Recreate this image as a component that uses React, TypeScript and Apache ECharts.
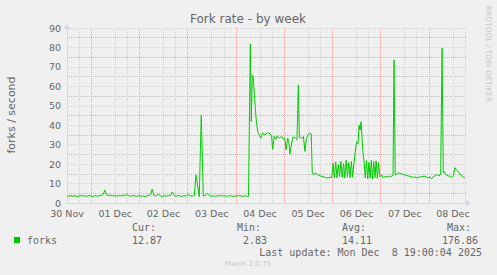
import React, { useEffect, useRef } from 'react';
import * as echarts from 'echarts';

// hours since 30 Nov 00:00
const hours = [
  12, 13, 14, 15, 16, 17, 18, 19, 20, 21, 22, 23, 24, 25, 26, 27, 28, 29, 30, 30.8,
  31.6, 32.5, 33.5, 34.5, 35.5, 36.5, 37.5, 38.5, 39.5, 40.5, 41.7, 42.7, 43.7, 44.7, 45.7,
  46.7, 47.7, 48.7, 49.7, 50.7, 51.7, 52.7, 53.6, 54.4, 55.2, 56.2, 57.3, 58.3, 59.3, 60.3,
  61.3, 62.3, 63.5, 64.4, 65.3, 66.3, 67.3, 68.3, 69.3, 70.3, 71.3, 72.2, 73.2, 74.2, 75.3,
  76.2, 77.8, 78.8, 79.8, 80.8, 81.8, 82.8, 83.8, 84.8, 85.8, 86.8, 87.8, 88.8, 89.8, 90.8,
  91.8, 92.8, 93.8, 94.8, 95.8, 96.8, 97.8, 98.8, 99.8, 100.8, 101.8, 102.3, 103.2, 103.7,
  104.2, 104.7, 105.2, 105.7, 106.2, 106.9, 107.7, 108.4, 109.4, 110.5, 111.8, 113, 113.8,
  114.3, 115.1, 115.9, 116.6, 117.6, 118.8, 119.6, 120.3, 121, 121.8, 122.4, 122.9, 124.3,
  125.4, 126.4, 127.1, 127.6, 128.8, 129.6, 130.4, 131.1, 132, 132.9, 133.5, 134, 134.6,
  135.4, 136.2, 137, 137.8, 138.7, 139.9, 141.2, 142.3, 143.7, 144.4, 145.0, 145.7, 146.3,
  147.0, 147.6, 148.3, 148.9, 149.6, 150.2, 150.9, 151.5, 152.2, 152.8, 153.5, 154.1, 154.8,
  155.3, 156.1, 156.8, 157.3, 157.8, 158.3, 158.7, 159.2, 159.8, 160.4, 161.0, 161.6, 162.2,
  162.8, 163.4, 164.0, 164.6, 165.2, 165.8, 166.4, 167.0, 167.7, 168.6, 169.4, 170.2, 171.1,
  172.0, 172.7, 173.5, 174.2, 174.7, 175.3, 176.0, 176.8, 177.6, 178.5, 179.3, 180.2, 181.4,
  182.6, 183.4, 184.3, 185.1, 186.0, 186.8, 187.6, 188.8, 190.1, 191.0, 191.8, 192.6, 193.4,
  194.2, 195.0, 195.9, 196.5, 197.2, 197.9, 198.6, 199.2, 199.7, 200.3, 200.9, 201.6, 202.2,
  202.8, 203.4, 204.2, 205.0, 205.9, 206.7, 207.6, 208.4, 209.2, 210.0,
];

const forks = [
  3.7, 3.4, 3.9, 3.5, 3.8, 3.3, 3.6, 4.0, 3.5, 3.7, 3.4, 3.9, 3.6, 3.3, 3.8, 3.5, 3.7, 3.9, 4.4, 6.7,
  4.3, 3.8, 4.0, 3.6, 3.9, 3.5, 3.8, 3.6, 4.0, 3.7, 4.4, 3.8, 3.5, 3.9, 3.6,
  3.4, 3.8, 3.5, 3.7, 3.3, 3.6, 3.9, 4.2, 7.2, 3.9, 3.6, 4.5, 3.7, 3.4, 3.8,
  3.5, 3.7, 4.0, 5.7, 3.8, 3.5, 3.9, 3.6, 3.4, 3.8, 3.6, 4.5, 3.7, 3.5, 3.9,
  14.4, 3.2, 45.3, 3.6, 3.9, 5.0, 3.8, 3.5, 3.7, 3.4, 3.8, 3.6, 3.9, 3.5, 3.7,
  3.4, 3.8, 3.6, 3.3, 3.7, 3.5, 3.9, 3.6, 3.4, 3.7, 3.4, 3.5, 81.8, 41.8,
  65.8, 64.5, 56, 48.8, 42, 36.7, 35, 33.3, 36, 35, 36.2, 35.6, 34.5,
  27.6, 34.3, 32.8, 34.5, 33.3, 34.3, 32.8, 33.5, 27.4, 33.3, 31, 25.2, 33.8,
  33.8, 32.5, 60.7, 33.8, 33.3, 34.2, 26.5, 33.3, 35.3, 36, 35.5, 16.1, 14.5,
  15.3, 14.8, 14.4, 14.1, 13.7, 13.4, 12.9, 13.1, 13.2, 20.5, 13.0, 21.2, 12.9,
  19.8, 13.6, 21.5, 13.2, 20.3, 12.8, 22.0, 13.4, 20.8, 13.0, 21.4, 13.3, 20.6,
  25.6, 31.5, 30.5, 40, 37.5, 41.8, 35, 26.3, 21.5, 13.0, 21.8, 12.4, 20.9,
  12.8, 22.0, 12.3, 21.3, 13.1, 21.7, 12.6, 20.8, 13.4, 14.4, 13.0, 13.5, 13.7,
  13.3, 13.9, 13.5, 14.6, 73.6, 14.4, 14.9, 15.6, 15.2, 15.0, 14.7, 14.4, 14.0,
  13.7, 13.5, 13.2, 13.4, 12.9, 13.3, 13.3, 13.6, 13.8, 13.2, 12.9, 13.6, 12.4,
  13.6, 13.9, 14.7, 14.2, 14.0, 14.9, 79.6, 15.6, 16.3, 15.0, 14.2, 14.0, 13.8,
  13.5, 13.2, 13.8, 18.2, 16.8, 16.0, 14.8, 13.8, 13.3, 12.9,
];

// midnight positions (hours since 30 Nov 00:00) for the major vertical grid
const midnightHours = [24, 48, 72, 96, 120, 144, 168, 192];
const dayLabels = ['30 Nov', '01 Dec', '02 Dec', '03 Dec', '04 Dec', '05 Dec', '06 Dec', '07 Dec', '08 Dec'];
const legendHeads = ['Cur:', 'Min:', 'Avg:', 'Max:'];
const legendValues = ['12.87', '2.83', '14.11', '176.86'];
const seriesName = 'forks';
const titleText = 'Fork rate - by week';
const yAxisTitle = 'forks / second';
const lastUpdate = 'Last update: Mon Dec  8 19:00:04 2025';
const watermark = 'Munin 2.0.75';
const sideText = 'RRDTOOL / TOBI OETIKER';

const GRAY = '#d4d4d4';
const RED = '#eba6a6';
const AXIS = '#CFD6F8';
const FONT = '#666666';
const SANS = '"DejaVu Sans", sans-serif';
const MONO = '"DejaVu Sans Mono", monospace';

export default function App() {
  const ref = useRef<HTMLDivElement>(null);
  useEffect(() => {
    if (!ref.current) return;
    const chart = echarts.init(ref.current, undefined, { renderer: 'svg' });
    const data = hours.map((h, i) => [h, forks[i]]);
    const headX = [132, 237, 342, 447];
    const valX = [132, 243, 342, 442];
    const monoText = (text: string, x: number, y: number, align = 'left') => ({
      type: 'text',
      x,
      y,
      style: { text, fill: FONT, fontSize: 10, fontFamily: MONO, textAlign: align, textVerticalAlign: 'middle' },
    });
    const axisLineStyle = {
      show: true,
      onZero: false,
      lineStyle: { color: AXIS, width: 1 },
      symbol: ['none', 'arrow'],
      symbolSize: [6, 6],
      symbolOffset: [0, 4],
    };
    chart.setOption({
      animation: false,
      backgroundColor: '#F0F0F0',
      grid: { left: 67, top: 28, width: 400, height: 175, containLabel: false },
      xAxis: {
        type: 'value',
        position: 'bottom',
        min: 12,
        max: 211,
        interval: 6,
        axisLine: axisLineStyle,
        axisTick: { show: false },
        axisLabel: {
          show: true,
          margin: 5,
          color: FONT,
          fontSize: 9.5,
          fontFamily: SANS,
          showMinLabel: true,
          showMaxLabel: true,
          formatter: (v: number) => {
            const k = (v - 12) / 24;
            const r = Math.round(k);
            return Math.abs(k - r) < 1e-6 && dayLabels[r] ? dayLabels[r] : '';
          },
        },
        splitLine: {
          show: true,
          showMinLine: false,
          showMaxLine: false,
          lineStyle: { color: [GRAY, GRAY, 'rgba(0,0,0,0)', GRAY], type: [1, 1], width: 1 },
        },
      },
      yAxis: {
        type: 'value',
        position: 'left',
        min: 0,
        max: 90,
        interval: 5,
        axisLine: axisLineStyle,
        axisTick: { show: false },
        axisLabel: {
          margin: 6,
          color: FONT,
          fontSize: 9.5,
          fontFamily: SANS,
          formatter: (v: number) => (Math.round(v) % 10 === 0 ? String(v) : ''),
        },
        splitLine: { show: true, showMinLine: false, lineStyle: { color: [RED, GRAY], type: [1, 1], width: 1 } },
      },
      series: [
        {
          name: seriesName,
          type: 'line',
          data,
          showSymbol: false,
          symbol: 'none',
          lineStyle: { color: '#00CC00', width: 1 },
          itemStyle: { color: '#00CC00' },
          z: 5,
          markLine: {
            silent: true,
            symbol: ['none', 'none'],
            label: { show: false },
            emphasis: { disabled: true },
            lineStyle: { color: RED, type: [1, 1], width: 1 },
            data: midnightHours.map((h) => ({ xAxis: h })),
            z: 1,
          },
        },
      ],
      graphic: [
        {
          type: 'text',
          x: 248,
          y: 19,
          style: { text: titleText, fill: FONT, fontSize: 12, fontFamily: SANS, textAlign: 'center', textVerticalAlign: 'middle' },
        },
        {
          type: 'text',
          x: 11,
          y: 115,
          rotation: Math.PI / 2,
          style: { text: yAxisTitle, fill: FONT, fontSize: 11, fontFamily: SANS, textAlign: 'center', textVerticalAlign: 'middle' },
        },
        {
          type: 'text',
          x: 488,
          y: 54,
          rotation: -Math.PI / 2,
          style: { text: sideText, fill: '#c8c8c8', fontSize: 7.5, fontFamily: SANS, textAlign: 'center', textVerticalAlign: 'middle' },
        },
        ...legendHeads.map((t, i) => monoText(t, headX[i], 227)),
        { type: 'rect', shape: { x: 14, y: 237, width: 6, height: 6 }, style: { fill: '#00CC00' } },
        monoText(seriesName, 27, 240),
        ...legendValues.map((t, i) => monoText(t, valX[i], 240)),
        monoText(lastUpdate, 482, 252, 'right'),
        {
          type: 'text',
          x: 248,
          y: 264,
          style: { text: watermark, fill: '#c8c8c8', fontSize: 7, fontFamily: SANS, textAlign: 'center', textVerticalAlign: 'middle' },
        },
      ],
    });
    return () => chart.dispose();
  }, []);
  return <div ref={ref} style={{ position: 'fixed', left: 0, top: 0, width: 497, height: 275 }} />;
}
